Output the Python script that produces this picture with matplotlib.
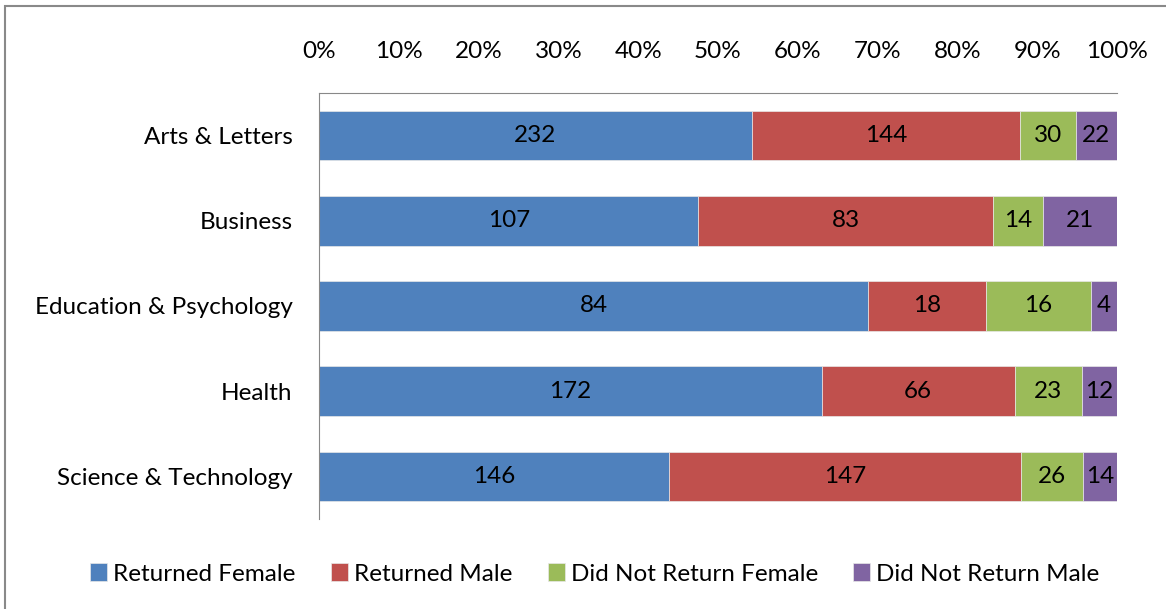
import matplotlib
matplotlib.use("Agg")
import matplotlib.pyplot as plt
import numpy as np
from matplotlib.patches import Rectangle
from matplotlib.ticker import PercentFormatter

categories = ["Arts & Letters", "Business", "Education & Psychology", "Health", "Science & Technology"]
series_names = ["Returned Female", "Returned Male", "Did Not Return Female", "Did Not Return Male"]
returned_female = [232, 107, 84, 172, 146]
returned_male = [144, 83, 18, 66, 147]
not_returned_female = [30, 14, 16, 23, 26]
not_returned_male = [22, 21, 4, 12, 14]
colors = ["#4F81BD", "#C0504D", "#9BBB59", "#8064A2"]

plt.rcParams['font.family'] = ['Lato', 'DejaVu Sans']
FS = 17.5

fig = plt.figure(figsize=(11.66, 6.09), dpi=100)
ax = fig.add_axes([319/1166, 1-519/609, (1117-319)/1166, (519-93)/609])

data = np.array([returned_female, returned_male, not_returned_female, not_returned_male], dtype=float)
totals = data.sum(axis=0)
shares = data / totals
y = np.arange(len(categories))
left = np.zeros(len(categories))
for i, name in enumerate(series_names):
    bars = ax.barh(y, shares[i], left=left, height=0.58, color=colors[i], label=name,
                   edgecolor='#e8e8e8', linewidth=0.5)
    for j, b in enumerate(bars):
        ax.text(left[j] + shares[i][j] / 2, y[j], f"{int(data[i][j])}", ha='center', va='center',
                fontsize=FS, color='black')
    left += shares[i]

ax.set_xlim(0, 1)
ax.set_ylim(len(categories) - 0.5, -0.5)
ax.set_yticks(y)
ax.set_yticklabels(categories, fontsize=FS)
ax.set_xticks(np.linspace(0, 1, 11))
ax.xaxis.set_major_formatter(PercentFormatter(1.0, decimals=0))
ax.xaxis.tick_top()
ax.tick_params(axis='x', length=0, pad=22, labelsize=FS)
ax.tick_params(axis='y', length=0, pad=19)
for s in ['right', 'bottom']:
    ax.spines[s].set_visible(False)
ax.spines['top'].set_color('#888888')
ax.spines['left'].set_color('#888888')

leg = fig.legend(loc='center', bbox_to_anchor=(595/1166, 1-574/609), ncol=4, frameon=False,
                 fontsize=FS, handlelength=0.7, handleheight=0.7, handletextpad=0.25, columnspacing=1.45)

fig.add_artist(Rectangle((5/1166, -0.05), 1.2, 1.05 - 6/609, transform=fig.transFigure,
                         fill=False, edgecolor='#898989', linewidth=1.5))

fig.savefig("out.png", dpi=100)
